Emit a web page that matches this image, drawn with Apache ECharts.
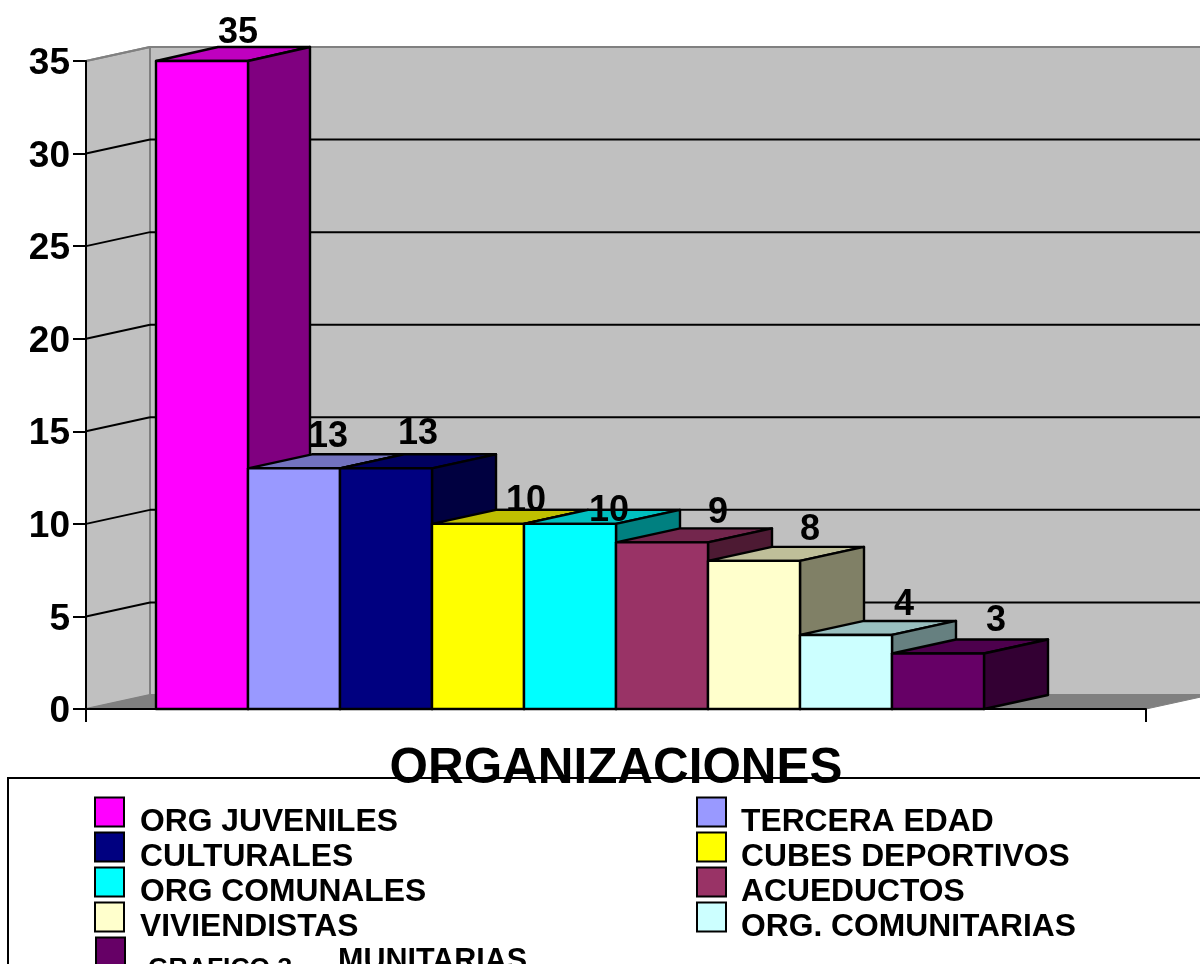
<!DOCTYPE html>
<html>
<head>
<meta charset="utf-8">
<style>html,body{margin:0;padding:0;background:#fff;overflow:hidden}#c{width:1200px;height:964px}</style>
<script src="https://cdn.jsdelivr.net/npm/echarts@6/dist/echarts.min.js"></script>
</head>
<body>
<div id="c"></div>
<script>
const categories = ['ORG JUVENILES','TERCERA EDAD','CULTURALES','CUBES DEPORTIVOS','ORG COMUNALES','ACUEDUCTOS','VIVIENDISTAS','ORG. COMUNITARIAS','MUNITARIAS'];
const values = [35,13,13,10,10,9,8,4,3];
const colors = ['#FF00FF','#9999FF','#000080','#FFFF00','#00FFFF','#993366','#FFFFCC','#CCFFFF','#660066'];
const yTicks = [5,10,15,20,25,30,35];
const axisTitle = 'ORGANIZACIONES';
const footerNote = 'GRAFICO 3';
const legendLeft = ['ORG JUVENILES','CULTURALES','ORG COMUNALES','VIVIENDISTAS'];
const legendRight = ['TERCERA EDAD','CUBES DEPORTIVOS','ACUEDUCTOS','ORG. COMUNITARIAS'];
const legendLast = ['MUNITARIAS'];

// pixel nudges of the value labels from each bar's top front centre
const labelNudges = [[36,-28],[34,-31],[32,-34],[48,-23],[39,-13],[56,-29],[56,-31],[58,-30],[58,-32]];

const FONT = '"Liberation Sans", Arial, sans-serif';
const WALL = {dx:64, dy:14}, BAR = {dx:64, dy:14};
const UNIT = 92, AXIS_W = 1060, SLOT0 = 70 / UNIT, XMAX = AXIS_W / UNIT;

function shade(hex, k){
  const n = parseInt(hex.slice(1),16);
  const c = [n>>16,(n>>8)&255,n&255].map(v=>Math.round(v*k));
  return 'rgb('+c.join(',')+')';
}
function poly(points, fill, stroke, lw){
  return {type:'polygon', shape:{points}, style:{fill, stroke:stroke||null, lineWidth:lw||0, lineJoin:'round'}};
}
function seg(a,b,color,lw){
  return {type:'line', shape:{x1:a[0],y1:a[1],x2:b[0],y2:b[1]}, style:{stroke:color, lineWidth:lw||2}};
}

const wallSeries = {
  type:'custom', name:'paredes', coordinateSystem:'cartesian2d', z:1, silent:true,
  data:[[0,0]], encode:{x:0,y:1},
  renderItem(p, api){
    const o = api.coord([0,0]), t = api.coord([0,35]), e = api.coord([XMAX,0]);
    const B = (q)=>[q[0]+WALL.dx, q[1]-WALL.dy];
    return {type:'group', children:[
      poly([o,t,B(t),B(o)], '#C0C0C0', '#808080', 2),
      poly([B(o),B(t),[B(e)[0]+40,B(t)[1]],[B(e)[0]+40,B(o)[1]]], '#C0C0C0', '#808080', 2),
      poly([o,B(o),B(e),e], '#808080', '#808080', 1)
    ]};
  }
};
const gridSeries = {
  type:'custom', name:'rejilla', coordinateSystem:'cartesian2d', z:1, silent:true,
  data:yTicks.map(v=>[0,v]), encode:{x:0,y:1},
  renderItem(p, api){
    const v = api.value(1), a = api.coord([0,v]), e = api.coord([XMAX,v]);
    const color = v === 35 ? '#808080' : '#000';
    const b = [a[0]+WALL.dx,a[1]-WALL.dy], c = [e[0]+WALL.dx+40,a[1]-WALL.dy];
    return {type:'group', children:[seg(a,b,color), seg(b,c,color)]};
  }
};
const barSeries = categories.map((name,i)=>({
  type:'custom', name, coordinateSystem:'cartesian2d', z:2, silent:true,
  itemStyle:{color:colors[i], borderColor:'#000', borderWidth:2},
  data:[[SLOT0+i, values[i]]], encode:{x:0,y:1},
  renderItem(p, api){
    const x = api.value(0), v = api.value(1);
    const a = api.coord([x,0]), b = api.coord([x,v]), c = api.coord([x+1,v]), d = api.coord([x+1,0]);
    const dx = i === 0 ? BAR.dx - 2 : BAR.dx;
    const B = (q)=>[q[0]+dx, q[1]-BAR.dy];
    return {type:'group', children:[
      poly([b,B(b),B(c),c], shade(colors[i],0.75), '#000', 2.4),
      poly([d,c,B(c),B(d)], shade(colors[i],0.5), '#000', 2.4),
      poly([a,b,c,d], colors[i], '#000', 2.4)
    ]};
  }
}));
const labelSeries = {
  type:'custom', name:'etiquetas', coordinateSystem:'cartesian2d', z:4, silent:true,
  data:values.map((v,i)=>[SLOT0+i+0.5, v, i]), encode:{x:0,y:1},
  renderItem(p, api){
    const q = api.coord([api.value(0), api.value(1)]), n = labelNudges[api.value(2)];
    return {type:'text', style:{text:String(api.value(1)), x:q[0]+n[0], y:q[1]+n[1],
      align:'center', verticalAlign:'middle', fill:'#000', font:'bold 36px '+FONT}};
  }
};

function legendOf(names, left, top, padLeft, size){
  return {
    show:true, data:names, orient:'vertical', left, top, padding:0, itemGap:-8, height:400,
    itemWidth:29, itemHeight:29, icon:'rect', selectedMode:false,
    itemStyle:{borderColor:'#000', borderWidth:2},
    formatter:(n)=>'{s| }\n{t|'+n+'}',
    textStyle:{rich:{
      s:{fontSize:10, lineHeight:20, height:20},
      t:{color:'#000', fontFamily:FONT, fontWeight:'bold', fontSize:size, lineHeight:14, height:14, padding:[0,0,0,padLeft]}
    }}
  };
}

const chart = echarts.init(document.getElementById('c'), null, {renderer:'canvas', width:1200, height:964});
chart.setOption({
  animation:false,
  backgroundColor:'#fff',
  grid:{left:86, top:61, width:AXIS_W, height:648},
  xAxis:{
    type:'value', min:0, max:XMAX, interval:XMAX, z:5,
    axisLine:{show:true, onZero:false, lineStyle:{color:'#000', width:2}},
    axisTick:{show:true, length:13, lineStyle:{color:'#000', width:2}},
    axisLabel:{show:false}, splitLine:{show:false},
    name:axisTitle, nameLocation:'middle', nameGap:36,
    nameTextStyle:{color:'#000', fontFamily:FONT, fontWeight:'bold', fontSize:49.4}
  },
  yAxis:{
    type:'value', min:0, max:35, interval:5, z:5,
    axisLine:{show:true, lineStyle:{color:'#000', width:2}},
    axisTick:{show:true, length:13, lineStyle:{color:'#000', width:2}},
    axisLabel:{color:'#000', fontFamily:FONT, fontWeight:'bold', fontSize:37, margin:16, verticalAlign:'top', lineHeight:6},
    splitLine:{show:false}
  },
  legend:[
    legendOf(legendLeft, 94, 795, 11, 31.8),
    legendOf(legendRight, 696, 795, 10, 31.8),
    legendOf(legendLast, 95, 935, 208, 30.5)
  ],
  graphic:[
    {type:'rect', z:0, silent:true, shape:{x:8,y:778,width:1300,height:300}, style:{fill:'none', stroke:'#000', lineWidth:2}},
    {type:'text', z:10, silent:true, style:{text:footerNote, x:148, y:969, verticalAlign:'middle', fill:'#000', font:'bold 26.5px '+FONT}}
  ],
  series:[wallSeries, gridSeries, ...barSeries, labelSeries]
});
</script>
</body>
</html>
